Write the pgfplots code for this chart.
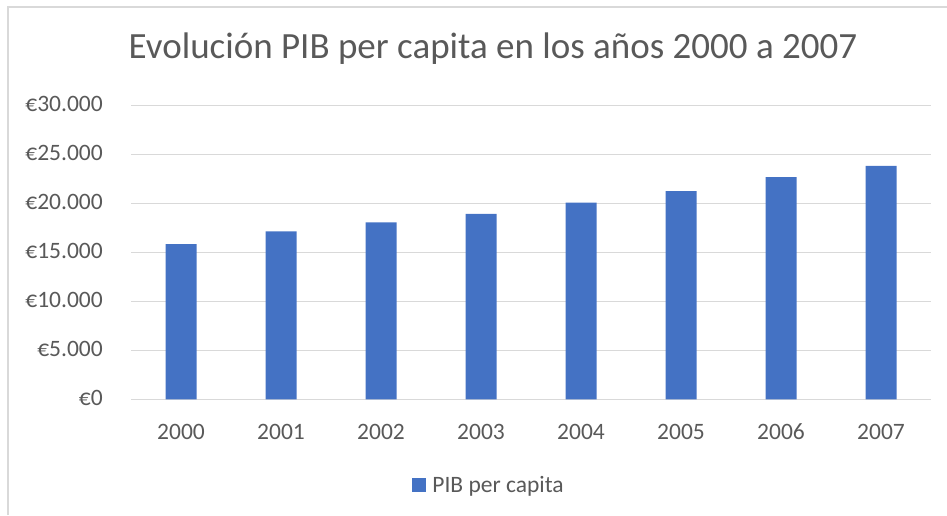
\documentclass[border=0pt]{standalone}
\usepackage{fontspec}
\setmainfont{Carlito}
\usepackage{pgfplots}
\pgfplotsset{compat=1.18}
\definecolor{barblue}{HTML}{4472C4}
\definecolor{gridgray}{HTML}{D9D9D9}
\definecolor{txtgray}{HTML}{595959}
\begin{document}
\begin{tikzpicture}[x=1pt,y=1pt]
\path[use as bounding box] (0,0) rectangle (947,515);
% chart frame (left and top edges visible)
\draw[gridgray, line width=1.2pt] (8,0) -- (8,508) -- (947,508);
% title
\node[anchor=base, text=txtgray, font=\fontsize{37}{42}\selectfont, inner sep=0pt]
  at (493,456.7) {Evolución PIB per capita en los años 2000 a 2007};
\begin{axis}[
    at={(131,118)}, anchor=south west,
    scale only axis,
    width=800pt, height=294pt,
    xmin=-0.5, xmax=7.5,
    ymin=0, ymax=30000,
    ybar, bar width=31pt,
    axis y line*=left,
    y axis line style={draw=none},
    axis x line*=bottom,
    x axis line style={gridgray, line width=1.2pt},
    ymajorgrids, grid style={gridgray, line width=1.2pt},
    major tick length=0pt,
    scaled y ticks=false,
    xtick={0,...,7},
    xticklabels={2000,2001,2002,2003,2004,2005,2006,2007},
    ytick={0,5000,10000,15000,20000,25000,30000},
    yticklabels={€0,€5.000,€10.000,€15.000,€20.000,€25.000,€30.000},
    ticklabel style={text=txtgray, font=\fontsize{23.5}{26}\selectfont, inner sep=0pt},
    xticklabel style={anchor=base, yshift=-39.7pt},
    yticklabel style={anchor=east, xshift=-28pt, yshift=1pt},
    legend style={at={(0.4475,-0.2925)}, anchor=center, draw=none,
        font=\fontsize{23.5}{26}\selectfont, text=txtgray},
    legend image code/.code={\fill[#1] (0pt,-7pt) rectangle (14pt,7pt); \path (18pt,0pt);},
]
\addplot[fill=barblue, draw=none] coordinates {
    (0,15840) (1,17130) (2,18050) (3,18930)
    (4,20070) (5,21250) (6,22670) (7,23830)
};
\addlegendentry{PIB per capita}
\end{axis}
\end{tikzpicture}
\end{document}
